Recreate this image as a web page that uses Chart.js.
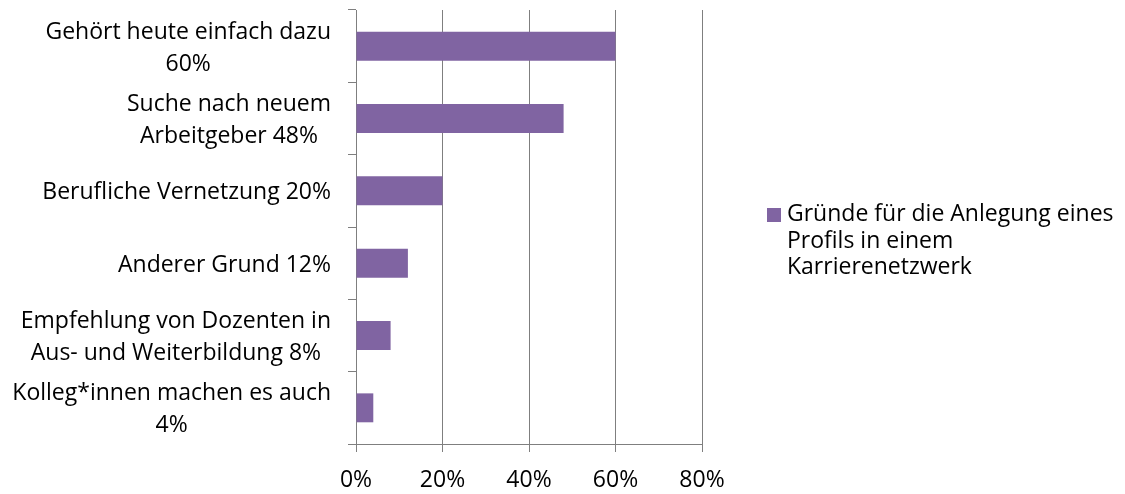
<!DOCTYPE html>
<html>
<head>
<meta charset="utf-8">
<script src="https://cdn.jsdelivr.net/npm/chart.js@4"></script>
<style>
html, body { margin: 0; padding: 0; background: #fff; }
</style>
</head>
<body>
<canvas id="chart" width="1125" height="494"></canvas>
<script>
// data
var categories = [
    ["Gehört heute einfach dazu", "60%"],
    ["Suche nach neuem", "Arbeitgeber 48%"],
    ["Berufliche Vernetzung 20%"],
    ["Anderer Grund 12%"],
    ["Empfehlung von Dozenten in", "Aus- und Weiterbildung 8%"],
    ["Kolleg*innen machen es auch", "4%"]
];
var values = [60, 48, 20, 12, 8, 4];
var xTicks = [0, 20, 40, 60, 80];
var seriesName = ["Gründe für die Anlegung eines", "Profils in einem", "Karrierenetzwerk"];

var purple = "#8064A2";
var gridGray = "#7f7f7f";
var fontFamily = "'Open Sans', sans-serif";
var fontSize = 23;

// y labels: each block right-aligned, lines centred inside the block (like Excel)
var yLabelPlugin = {
    id: 'yLabels',
    afterDraw: function(chart) {
        var ctx = chart.ctx;
        var yScale = chart.scales.y;
        var rightEdge = yScale.right - 25;
        var lineH = 32;
        ctx.save();
        ctx.font = fontSize + "px " + fontFamily;
        ctx.fillStyle = "#000";
        ctx.textAlign = "center";
        ctx.textBaseline = "middle";
        categories.forEach(function(lines, i) {
            var yc = yScale.getPixelForValue(i) + 2;
            var w = 0;
            lines.forEach(function(l) { w = Math.max(w, ctx.measureText(l).width); });
            var cx = rightEdge - w / 2;
            var y0 = yc - (lines.length - 1) * lineH / 2;
            lines.forEach(function(l, j) {
                ctx.fillText(l, cx, y0 + j * lineH);
            });
        });
        ctx.restore();
    }
};

// legend on the right, text wrapped over three lines
var legendPlugin = {
    id: 'sideLegend',
    afterDraw: function(chart) {
        var ctx = chart.ctx;
        var area = chart.chartArea;
        var x = area.right + 65;
        var y = 221;
        ctx.save();
        ctx.fillStyle = purple;
        ctx.fillRect(x, y - 13, 14, 14);
        ctx.font = fontSize + "px " + fontFamily;
        ctx.fillStyle = "#000";
        ctx.textAlign = "left";
        ctx.textBaseline = "alphabetic";
        seriesName.forEach(function(l, j) {
            ctx.fillText(l, x + 20, y + j * 26.5);
        });
        ctx.restore();
    }
};

var ctx = document.getElementById("chart").getContext('2d');
var chart = new Chart(ctx, {
    type: 'bar',
    data: {
        labels: categories,
        datasets: [{
            label: seriesName.join(" "),
            backgroundColor: purple,
            borderWidth: 0,
            data: values,
            barPercentage: 0.5,
            categoryPercentage: 0.8
        }]
    },
    options: {
        responsive: false,
        animation: false,
        indexAxis: 'y',
        layout: {
            padding: { top: 10, right: 423, bottom: 0, left: 0 }
        },
        scales: {
            x: {
                min: 0,
                max: 80,
                afterBuildTicks: function(scale) {
                    scale.ticks = xTicks.map(function(v) { return { value: v }; });
                },
                afterFit: function(scale) { scale.height = 50; },
                grid: { color: gridGray, tickLength: 8, lineWidth: 1 },
                border: { color: gridGray },
                ticks: {
                    color: "#000",
                    padding: 15,
                    font: { family: fontFamily, size: fontSize },
                    callback: function(v) { return v + "%"; }
                }
            },
            y: {
                offset: true,
                afterFit: function(scale) { scale.width = 356; },
                grid: { drawOnChartArea: false, color: gridGray, tickLength: 8, offset: true },
                border: { color: gridGray },
                ticks: { display: false }
            }
        },
        plugins: {
            legend: { display: false },
            tooltip: { enabled: false }
        }
    },
    plugins: [yLabelPlugin, legendPlugin]
});
</script>
</body>
</html>
